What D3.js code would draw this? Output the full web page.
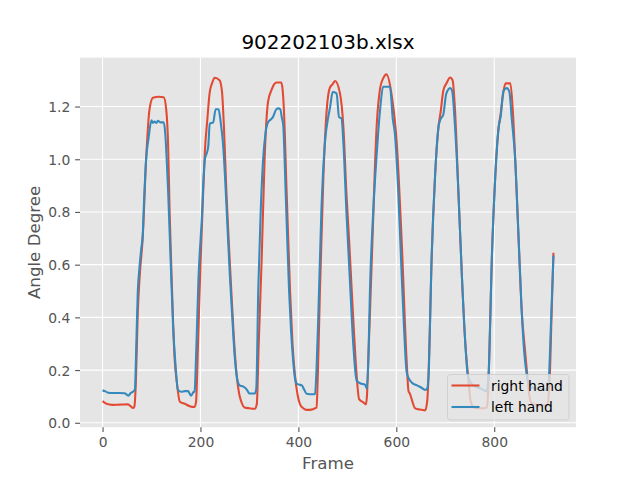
<!DOCTYPE html>
<html><head><meta charset="utf-8">
<script src="https://cdn.jsdelivr.net/npm/d3@7"></script>
<style>body{margin:0;background:#fff}svg{display:block;font-family:"DejaVu Sans",sans-serif}</style>
</head><body><svg id="c" width="640" height="480"></svg>
<script>
const title = "902202103b.xlsx";
const xLabel = "Frame";
const yLabel = "Angle Degree";
const seriesNames = ["right hand", "left hand"];
const seriesColors = ["#E24A33", "#348ABD"];
const xTicks = [0, 200, 400, 600, 800];
const yTicks = [0.0, 0.2, 0.4, 0.6, 0.8, 1.0, 1.2];

const rightFrames = [0,8,20,35,52,58,62,65,68,72,76,82,89,96,103,115,125,130,134,137,142,147,152,158,168,178,188,191,195,200,205,209,214,219,224,229,239,244,248,253,258,263,268,274,279,284,290,300,311,315,319,325,331,338,345,350,355,365,368,370,376,383,388,393,398,403,410,417,427,434,437,440,444,451,458,464,470,475,485,492,498,504,509,514,519,524,533,538,540,543,550,560,567,573,580,590,601,611,621,625,628,632,638,648,659,663,666,672,679,686,691,696,703,710,715,720,727,734,741,747,752,760,775,784,786,789,795,802,809,813,818,823,833,838,843,850,856,863,867,872,876,885,895,908,913,917,921];
const rightAngles = [0.082,0.072,0.068,0.069,0.070,0.062,0.056,0.062,0.15,0.42,0.56,0.70,1.00,1.19,1.233,1.237,1.235,1.19,1.05,0.80,0.50,0.25,0.15,0.08,0.072,0.063,0.060,0.08,0.30,0.60,0.85,1.03,1.15,1.256,1.29,1.309,1.30,1.256,1.12,0.876,0.68,0.50,0.33,0.18,0.11,0.077,0.058,0.055,0.053,0.07,0.30,0.62,1.0,1.218,1.262,1.283,1.291,1.291,1.26,1.205,0.876,0.50,0.30,0.18,0.11,0.072,0.055,0.049,0.050,0.055,0.058,0.20,0.50,0.93,1.19,1.27,1.285,1.297,1.25,1.12,0.876,0.68,0.50,0.33,0.18,0.09,0.077,0.07,0.10,0.25,0.62,1.13,1.27,1.306,1.322,1.25,1.06,0.69,0.24,0.12,0.11,0.086,0.056,0.050,0.047,0.08,0.185,0.615,0.93,1.12,1.185,1.26,1.29,1.31,1.30,1.185,0.87,0.556,0.30,0.17,0.08,0.057,0.055,0.057,0.07,0.20,0.615,0.93,1.12,1.17,1.245,1.288,1.288,1.185,0.995,0.69,0.43,0.274,0.19,0.10,0.075,0.068,0.066,0.066,0.15,0.40,0.645];

const leftFrames = [0,5,10,20,35,45,50,53,57,62,66,69,72,75,79,82,85,89,94,100,103,106,110,113,118,125,128,131,134,139,144,149,154,161,168,175,178,181,185,188,191,196,202,209,214,216,219,226,231,237,240,242,246,250,255,260,265,270,275,280,287,295,300,311,314,318,323,328,333,338,343,348,355,359,363,366,369,374,381,385,389,393,396,401,407,412,417,430,434,437,441,447,454,461,465,470,478,483,488,492,498,505,512,519,526,536,540,543,546,553,560,567,573,587,593,597,604,611,616,621,625,632,642,650,659,663,666,672,679,686,690,696,702,710,714,719,727,734,741,746,750,755,765,775,782,785,789,795,802,809,813,819,826,831,836,843,850,856,861,866,870,875,885,900,908,911,916,921];
const leftAngles = [0.123,0.12,0.115,0.113,0.113,0.112,0.106,0.103,0.112,0.118,0.125,0.30,0.50,0.58,0.66,0.71,0.85,1.0,1.08,1.148,1.138,1.143,1.138,1.146,1.14,1.14,1.10,1.00,0.876,0.62,0.37,0.22,0.125,0.118,0.12,0.12,0.11,0.103,0.115,0.12,0.25,0.55,0.75,1.0,1.03,1.05,1.135,1.14,1.19,1.19,1.16,1.13,1.06,0.94,0.75,0.56,0.40,0.25,0.166,0.142,0.138,0.125,0.111,0.111,0.13,0.50,0.80,1.0,1.10,1.14,1.15,1.16,1.19,1.193,1.19,1.16,1.13,0.876,0.50,0.35,0.243,0.17,0.15,0.145,0.142,0.125,0.11,0.108,0.11,0.20,0.425,0.805,1.058,1.16,1.20,1.255,1.25,1.16,1.155,1.058,0.805,0.55,0.30,0.16,0.15,0.145,0.13,0.24,0.49,0.805,1.02,1.19,1.275,1.275,1.15,1.10,0.876,0.56,0.35,0.195,0.17,0.152,0.142,0.135,0.125,0.13,0.185,0.615,0.93,1.12,1.15,1.17,1.248,1.27,1.26,1.15,0.87,0.556,0.30,0.18,0.16,0.145,0.135,0.128,0.12,0.125,0.20,0.615,0.93,1.12,1.16,1.26,1.27,1.255,1.15,0.995,0.69,0.43,0.274,0.187,0.15,0.135,0.13,0.128,0.125,0.15,0.38,0.635];

const right = rightFrames.map((f,i)=>({x:f,y:rightAngles[i]}));
const left = leftFrames.map((f,i)=>({x:f,y:leftAngles[i]}));
const series = [right, left];

const svg = d3.select("#c");
const ax = {l:80, t:57.6, w:496, h:369.6};
const pt = 100/72;

const allX = rightFrames.concat(leftFrames), allY = rightAngles.concat(leftAngles);
const [x0,x1] = d3.extent(allX), [y0,y1] = d3.extent(allY);
const mx = (x1-x0)*0.05, my = (y1-y0)*0.05;
const x = d3.scaleLinear().domain([x0-mx, x1+mx]).range([ax.l, ax.l+ax.w]);
const y = d3.scaleLinear().domain([y0-my, y1+my]).range([ax.t+ax.h, ax.t]);

svg.append("rect").attr("x",ax.l).attr("y",ax.t).attr("width",ax.w).attr("height",ax.h).attr("fill","#E5E5E5");

// grid
const g = svg.append("g");
g.selectAll(".gx").data(xTicks).join("line").attr("x1",d=>x(d)).attr("x2",d=>x(d)).attr("y1",ax.t).attr("y2",ax.t+ax.h).attr("stroke","#fff").attr("stroke-width",0.8*pt);
g.selectAll(".gy").data(yTicks).join("line").attr("y1",d=>y(d)).attr("y2",d=>y(d)).attr("x1",ax.l).attr("x2",ax.l+ax.w).attr("stroke","#fff").attr("stroke-width",0.8*pt);

// axes
const tickLen = 3.5*pt, pad = 3.5*pt;
const xAxis = svg.append("g").attr("transform",`translate(0,${ax.t+ax.h})`)
  .call(d3.axisBottom(x).tickValues(xTicks).tickFormat(d3.format("d")).tickSize(tickLen).tickPadding(pad));
const yAxis = svg.append("g").attr("transform",`translate(${ax.l},0)`)
  .call(d3.axisLeft(y).tickValues(yTicks).tickFormat(d3.format(".1f")).tickSize(tickLen).tickPadding(pad));
[xAxis,yAxis].forEach(a=>{
  a.select(".domain").remove();
  a.selectAll(".tick line").attr("stroke","#555555").attr("stroke-width",0.8*pt);
  a.selectAll(".tick text").attr("fill","#555555").attr("font-size",10*pt).attr("font-family","DejaVu Sans");
});
xAxis.selectAll(".tick text").attr("dy",null).attr("y",tickLen+pad).attr("dominant-baseline","hanging");
yAxis.selectAll(".tick text").attr("dy","0.36em");

// lines
const line = d3.line().x(d=>x(d.x)).y(d=>y(d.y)).curve(d3.curveMonotoneX);
svg.append("defs").append("clipPath").attr("id","clip").append("rect").attr("x",ax.l).attr("y",ax.t).attr("width",ax.w).attr("height",ax.h);
svg.append("g").attr("clip-path","url(#clip)").selectAll("path").data(series).join("path")
  .attr("d",line).attr("fill","none").attr("stroke",(d,i)=>seriesColors[i]).attr("stroke-width",1.5*pt)
  .attr("stroke-linejoin","round");

// title & labels
svg.append("text").attr("x",ax.l+ax.w/2).attr("y",ax.t-6*pt).attr("text-anchor","middle")
  .attr("font-size",14.4*pt).attr("fill","#000").text(title);
svg.append("text").attr("x",ax.l+ax.w/2).attr("y",469).attr("text-anchor","middle")
  .attr("font-size",12*pt).attr("fill","#555555").text(xLabel);
svg.append("text").attr("transform",`translate(40,${ax.t+ax.h/2}) rotate(-90)`).attr("text-anchor","middle")
  .attr("font-size",12*pt).attr("fill","#555555").text(yLabel);

// legend
const lg = svg.append("g");
lg.append("rect").attr("x",447.5).attr("y",374.5).attr("width",121.5).attr("height",45.5).attr("rx",2.8)
  .attr("fill","#E5E5E5").attr("fill-opacity",0.8).attr("stroke","#CCCCCC").attr("stroke-opacity",0.8).attr("stroke-width",1);
seriesNames.forEach((n,i)=>{
  const cy = 385.5 + i*21.5;
  lg.append("line").attr("x1",451.5).attr("x2",479.5).attr("y1",cy).attr("y2",cy).attr("stroke",seriesColors[i]).attr("stroke-width",1.5*pt);
  lg.append("text").attr("x",491).attr("y",cy).attr("dy","0.36em").attr("font-size",10*pt).attr("fill","#000").text(n);
});
</script></body></html>
